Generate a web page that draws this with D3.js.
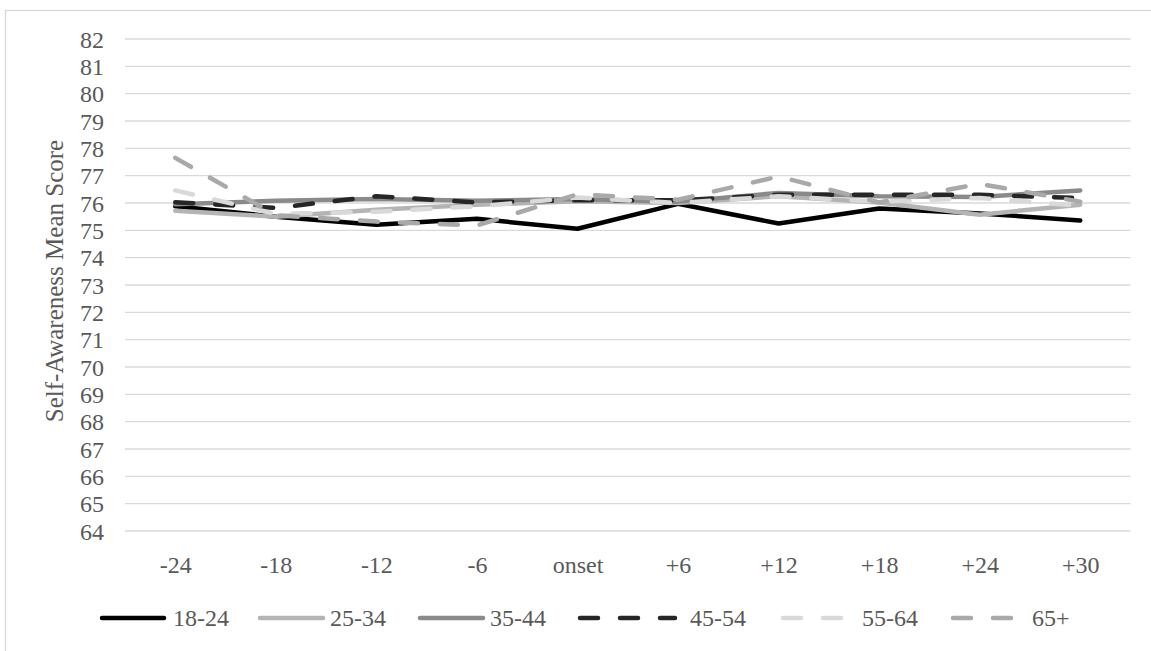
<!DOCTYPE html>
<html>
<head>
<meta charset="utf-8">
<script src="https://cdn.jsdelivr.net/npm/d3@7/dist/d3.min.js"></script>
<style>
  html, body { margin: 0; padding: 0; background: #fff; }
  svg { display: block; }
  text { font-family: "Liberation Serif", "Times New Roman", serif; fill: #595959; }
</style>
</head>
<body>
<svg id="chart" width="1151" height="651"></svg>
<script>
// Months relative to onset
const periods = ["-24", "-18", "-12", "-6", "onset", "+6", "+12", "+18", "+24", "+30"];

// Mean self-awareness score per age group
const age18to24 = [75.88, 75.50, 75.20, 75.42, 75.06, 75.97, 75.25, 75.80, 75.62, 75.36];
const age25to34 = [75.72, 75.50, 75.75, 75.94, 76.06, 76.00, 76.25, 76.02, 75.57, 75.94];
const age35to44 = [75.95, 76.08, 76.15, 76.08, 76.15, 76.05, 76.37, 76.25, 76.22, 76.46];
const age45to54 = [76.03, 75.82, 76.25, 76.02, 76.10, 76.10, 76.30, 76.30, 76.30, 76.18];
const age55to64 = [76.46, 75.60, 75.68, 75.88, 76.20, 76.00, 76.25, 76.05, 76.18, 75.90];
const age65plus = [77.65, 75.55, 75.32, 75.18, 76.32, 76.12, 76.97, 76.02, 76.70, 76.05];

const seriesNames = ["18-24", "25-34", "35-44", "45-54", "55-64", "65+"];
const yTicks = d3.range(64, 83, 1);

const series = [
  { name: seriesNames[0], values: age18to24, color: "#000000", dash: null },
  { name: seriesNames[1], values: age25to34, color: "#b4b4b4", dash: null },
  { name: seriesNames[2], values: age35to44, color: "#8a8a8a", dash: null },
  { name: seriesNames[3], values: age45to54, color: "#262626", dash: "18,22" },
  { name: seriesNames[4], values: age55to64, color: "#d9d9d9", dash: "18,22" },
  { name: seriesNames[5], values: age65plus, color: "#a9a9a9", dash: "18,22" }
];

const svg = d3.select("#chart");

// chart frame
svg.append("rect")
  .attr("x", 5.5).attr("y", 10.5)
  .attr("width", 1200).attr("height", 700)
  .attr("fill", "none").attr("stroke", "#d9d9d9").attr("stroke-width", 1.3);

const plot = { left: 125, right: 1130.5, top: 39, bottom: 531 };

const x = d3.scalePoint().domain(periods).range([plot.left, plot.right]).padding(0.5);
const y = d3.scaleLinear().domain([64, 82]).range([plot.bottom, plot.top]);

// horizontal gridlines
svg.append("g").selectAll("line").data(yTicks).join("line")
  .attr("x1", plot.left).attr("x2", plot.right)
  .attr("y1", d => y(d)).attr("y2", d => y(d))
  .attr("stroke", "#d9d9d9").attr("stroke-width", 1.3);

// y tick labels
const yAxis = d3.axisLeft(y).tickValues(yTicks).tickSize(0).tickPadding(0);
const gy = svg.append("g").attr("transform", "translate(104,0)").call(yAxis);
gy.select(".domain").remove();
gy.selectAll("text")
  .attr("font-size", 24).attr("font-family", "Liberation Serif, Times New Roman, serif")
  .attr("fill", "#595959").attr("dy", "0.34em");

// x tick labels
const xAxis = d3.axisBottom(x).tickSize(0).tickPadding(0);
const gx = svg.append("g").attr("transform", "translate(0,565)").call(xAxis);
gx.select(".domain").remove();
gx.selectAll("text")
  .attr("font-size", 24).attr("font-family", "Liberation Serif, Times New Roman, serif")
  .attr("fill", "#595959").attr("dy", "0.34em");

// y axis title
svg.append("text")
  .attr("transform", `translate(63,${(plot.top + plot.bottom) / 2 - 4}) rotate(-90)`)
  .attr("text-anchor", "middle")
  .attr("font-size", 25)
  .text("Self-Awareness Mean Score");

// series lines
const line = d3.line()
  .x((d, i) => x(periods[i]))
  .y(d => y(d));

svg.append("g").selectAll("path").data(series).join("path")
  .attr("d", s => line(s.values))
  .attr("fill", "none")
  .attr("stroke", s => s.color)
  .attr("stroke-width", 4.5)
  .attr("stroke-linejoin", "round")
  .attr("stroke-linecap", "round")
  .attr("stroke-dasharray", s => s.dash);

// legend
const legendSlots = [
  { x0: 100, x1: 166, tx: 173 },
  { x0: 258, x1: 325, tx: 330 },
  { x0: 418, x1: 485, tx: 490 },
  { x0: 578, x1: 677, tx: 690 },
  { x0: 781, x1: 848, tx: 862 },
  { x0: 951, x1: 1018, tx: 1032 }
];
const legendY = 618;
const lg = svg.append("g");
series.forEach((s, i) => {
  const slot = legendSlots[i];
  lg.append("line")
    .attr("x1", slot.x0 + 2).attr("x2", slot.x1 - 2)
    .attr("y1", legendY).attr("y2", legendY)
    .attr("stroke", s.color).attr("stroke-width", 4.5)
    .attr("stroke-linecap", "round")
    .attr("stroke-dasharray", s.dash);
  lg.append("text")
    .attr("x", slot.tx).attr("y", legendY)
    .attr("dy", "0.34em")
    .attr("font-size", 24)
    .text(s.name);
});
</script>
</body>
</html>
